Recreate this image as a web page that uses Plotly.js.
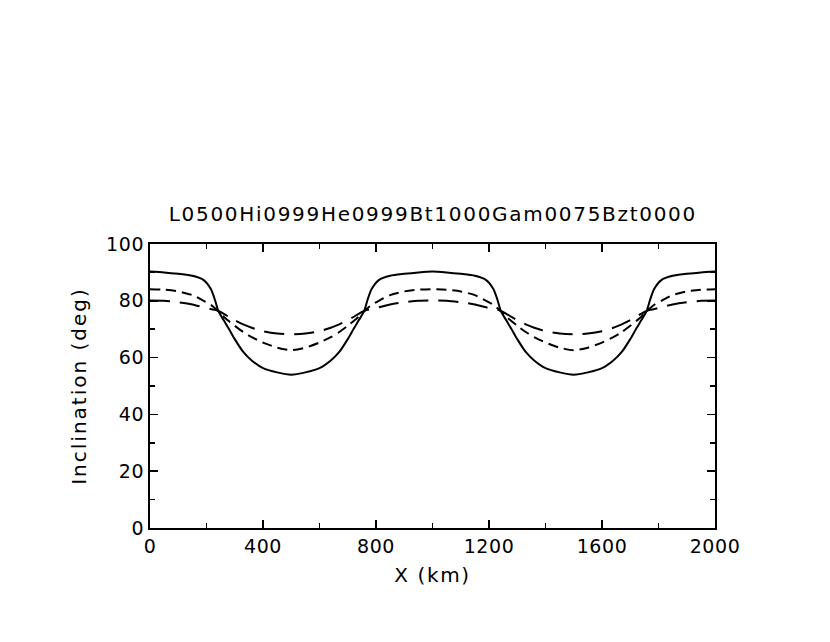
<!DOCTYPE html>
<html>
<head>
<meta charset="utf-8">
<script src="https://cdn.plot.ly/plotly-3.0.1.min.js"></script>
<style>
html,body{margin:0;padding:0;background:#fff;}
#chart{width:830px;height:642px;}
#chart .gtitle{letter-spacing:1.7px;}
#chart .xtitle{letter-spacing:1.6px;}
#chart .ytitle{letter-spacing:2.0px;}
#chart .xtick text,#chart .ytick text{letter-spacing:0.6px;}
</style>
</head>
<body>
<div id="chart"></div>
<script>
const xKm = [0,50,100,150,190,215,230,242,260,280,300,330,360,400,450,500,
  550,600,640,670,700,720,740,758,770,785,810,850,900,950,1000,
  1050,1100,1150,1190,1215,1230,1242,1260,1280,1300,1330,1360,1400,1450,1500,
  1550,1600,1640,1670,1700,1720,1740,1758,1770,1785,1810,1850,1900,1950,2000];

const solidInc = [90.3,90.0,89.5,88.8,87.3,84.2,80.3,76.4,73.3,70.0,66.5,62.0,59.0,56.3,54.8,54.0,
  54.8,56.3,59.0,62.0,66.5,70.0,73.3,76.4,80.3,84.2,87.3,88.8,89.5,90.0,90.3,
  90.0,89.5,88.8,87.3,84.2,80.3,76.4,73.3,70.0,66.5,62.0,59.0,56.3,54.8,54.0,
  54.8,56.3,59.0,62.0,66.5,70.0,73.3,76.4,80.3,84.2,87.3,88.8,89.5,90.0,90.3];

const shortDashInc = [84.1,83.9,83.3,82.0,80.0,78.6,77.4,76.4,74.5,72.8,71.2,69.0,67.2,65.3,63.5,62.6,
  63.5,65.3,67.2,69.0,71.2,72.8,74.5,76.4,77.4,78.6,80.0,82.0,83.3,83.9,84.1,
  83.9,83.3,82.0,80.0,78.6,77.4,76.4,74.5,72.8,71.2,69.0,67.2,65.3,63.5,62.6,
  63.5,65.3,67.2,69.0,71.2,72.8,74.5,76.4,77.4,78.6,80.0,82.0,83.3,83.9,84.1];

const longDashInc = [80.1,80.0,79.5,78.7,77.7,77.1,76.8,76.4,75.5,74.3,73.2,71.7,70.5,69.3,68.5,68.2,
  68.5,69.3,70.5,71.7,73.2,74.3,75.5,76.4,76.8,77.1,77.7,78.7,79.5,80.0,80.1,
  80.0,79.5,78.7,77.7,77.1,76.8,76.4,75.5,74.3,73.2,71.7,70.5,69.3,68.5,68.2,
  68.5,69.3,70.5,71.7,73.2,74.3,75.5,76.4,76.8,77.1,77.7,78.7,79.5,80.0,80.1];

const titleText = 'L0500Hi0999He0999Bt1000Gam0075Bzt0000';
const xTitle = 'X (km)';
const yTitle = 'Inclination (deg)';
const xTickVals = [0,400,800,1200,1600,2000];
const yTickVals = [0,20,40,60,80,100];

const traces = [
  {x: xKm, y: solidInc, mode: 'lines', line: {color: '#000', width: 2, dash: 'solid', shape: 'spline', smoothing: 0.7}},
  {x: xKm, y: shortDashInc, mode: 'lines', line: {color: '#000', width: 2, dash: '10px,6px', shape: 'spline', smoothing: 0.7}},
  {x: xKm, y: longDashInc, mode: 'lines', line: {color: '#000', width: 2, dash: '20px,10px', shape: 'spline', smoothing: 0.7}}
];

const font = {family: 'DejaVu Sans, sans-serif', color: '#000'};

const layout = {
  width: 830, height: 642,
  paper_bgcolor: '#fff', plot_bgcolor: '#fff',
  showlegend: false,
  margin: {l: 150, r: 115, t: 244, b: 114},
  title: {text: titleText, font: Object.assign({size: 20}, font), x: 0.5215, xanchor: 'center', y: 0.667, yanchor: 'middle'},
  xaxis: {
    range: [0, 2000], tickvals: xTickVals, ticktext: xTickVals.map(String),
    ticks: 'inside', ticklen: 8, tickwidth: 1.5, tickcolor: '#000',
    minor: {dtick: 200, ticks: 'inside', ticklen: 5, tickwidth: 1.5, tickcolor: '#000'},
    showline: true, linecolor: '#000', linewidth: 2, mirror: 'ticks',
    showgrid: false, zeroline: false,
    tickfont: Object.assign({size: 19}, font),
    title: {text: xTitle, font: Object.assign({size: 20}, font), standoff: 12}
  },
  yaxis: {
    range: [0, 100], tickvals: yTickVals, ticktext: yTickVals.map(String),
    ticks: 'inside', ticklen: 8, tickwidth: 1.5, tickcolor: '#000',
    minor: {dtick: 10, ticks: 'inside', ticklen: 5, tickwidth: 1.5, tickcolor: '#000'},
    showline: true, linecolor: '#000', linewidth: 2, mirror: 'ticks',
    showgrid: false, zeroline: false,
    tickfont: Object.assign({size: 19}, font),
    title: {text: yTitle, font: Object.assign({size: 20}, font), standoff: 16}
  }
};

Plotly.newPlot('chart', traces, layout, {displayModeBar: false, staticPlot: true});
</script>
</body>
</html>
